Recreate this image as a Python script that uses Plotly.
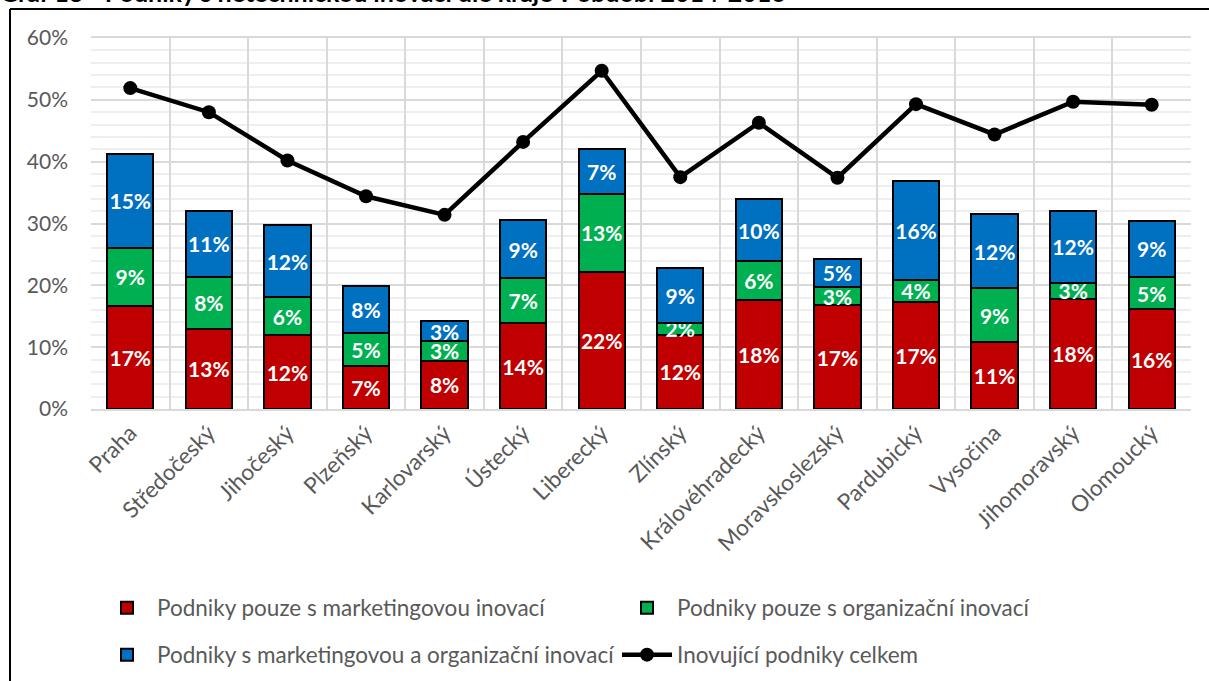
import plotly.graph_objects as go

regions = ["Praha", "Středočeský", "Jihočeský", "Plzeňský", "Karlovarský", "Ústecký",
           "Liberecký", "Zlínský", "Královéhradecký", "Moravskoslezský", "Pardubický",
           "Vysočina", "Jihomoravský", "Olomoucký"]
marketing_only = [16.7, 13.0, 11.9, 6.9, 7.8, 13.9, 22.2, 12.0, 17.6, 16.8, 17.3, 10.8, 17.8, 16.1]
org_only = [9.4, 8.4, 6.2, 5.4, 3.2, 7.3, 12.6, 1.9, 6.3, 2.9, 3.6, 8.7, 2.6, 5.3]
both = [15.1, 10.7, 11.6, 7.6, 3.2, 9.3, 7.3, 8.9, 10.0, 4.6, 16.0, 12.0, 11.7, 9.0]
total = [51.9, 48.0, 40.2, 34.4, 31.4, 43.2, 54.7, 37.5, 46.3, 37.4, 49.3, 44.4, 49.7, 49.2]

names = ["Podniky pouze s marketingovou inovací",
         "Podniky pouze s organizační inovací",
         "Podniky s marketingovou a organizační inovací",
         "Inovující podniky celkem"]
colors = ["#C00000", "#00B050", "#0070C0"]
y_ticks = [0, 10, 20, 30, 40, 50, 60]
title_text = "Graf 13 - Podniky s netechnickou inovací dle kraje v období 2014-2016"

FONT = "Lato"
GRAY = "#595959"

fig = go.Figure()
for vals, name, col, lg in zip([marketing_only, org_only, both], names[:3], colors,
                               ["legend", "legend", "legend2"]):
    fig.add_trace(go.Bar(
        x=regions, y=vals, name=name, legend=lg,
        marker=dict(color=col, line=dict(color="black", width=2)),
        width=0.59,
        texttemplate="%{y:.0f}%", textposition="inside", insidetextanchor="middle",
        constraintext="none", textangle=0,
        textfont=dict(family=FONT, size=21, color="white", weight="bold"),
        hoverinfo="skip",
    ))

fig.add_trace(go.Scatter(
    x=regions, y=total, name=names[3], legend="legend2", mode="lines+markers",
    line=dict(color="black", width=4.5),
    marker=dict(color="black", size=14),
    hoverinfo="skip",
))

W, H = 1209, 681
ml, mr, mt, mb = 91, 18, 38, 272
pw, ph = W - ml - mr, H - mt - mb

def px_x(p):
    return (p - ml) / pw

def px_y(p):
    return (H - mb - p) / ph

legend_common = dict(
    orientation="h", xanchor="left", yanchor="middle",
    entrywidth=455, entrywidthmode="pixels", itemwidth=50,
    font=dict(family=FONT, size=22.5, color=GRAY), bgcolor="rgba(0,0,0,0)",
    traceorder="normal",
)

fig.update_layout(
    width=W, height=H,
    margin=dict(l=ml, r=mr, t=mt, b=mb, autoexpand=False),
    barmode="stack",
    paper_bgcolor="white", plot_bgcolor="white",
    font=dict(family=FONT, color=GRAY),
    xaxis=dict(
        type="category", tickson="boundaries", showgrid=True, gridcolor="#d9d9d9", gridwidth=2,
        tickangle=-45, tickfont=dict(family=FONT, size=22.5, color=GRAY),
        ticks="", showline=True, linecolor="#d9d9d9", linewidth=2, mirror=True,
        range=[-0.5, len(regions) - 0.5], fixedrange=True,
    ),
    yaxis=dict(
        range=[0, 60], tickvals=y_ticks, ticktext=[f"{v}%" for v in y_ticks],
        showgrid=True, gridcolor="#d9d9d9", gridwidth=2,
        minor=dict(dtick=2, showgrid=True, gridcolor="#eeeeee", gridwidth=1.5),
        zeroline=False, showline=False,
        tickfont=dict(family=FONT, size=21, color=GRAY), ticklabelstandoff=22,
        fixedrange=True,
    ),
    legend=dict(x=px_x(97), y=px_y(608), **legend_common),
    legend2=dict(x=px_x(97), y=px_y(655), **legend_common),
    showlegend=True,
    annotations=[dict(
        text=f"<b>{title_text}</b>", xref="paper", yref="paper",
        x=px_x(-2), y=px_y(-8), xanchor="left", yanchor="middle", showarrow=False,
        font=dict(family=FONT, size=25, color="black"),
    )],
    shapes=[
        dict(type="line", xref="paper", yref="paper", x0=px_x(10), x1=px_x(1300),
             y0=px_y(9), y1=px_y(9), line=dict(color="black", width=2)),
        dict(type="line", xref="paper", yref="paper", x0=px_x(10), x1=px_x(10),
             y0=px_y(9), y1=px_y(800), line=dict(color="black", width=2)),
    ],
)

fig.write_html("out.html", config={"displayModeBar": False},
               post_script="document.body.style.margin='0';")
